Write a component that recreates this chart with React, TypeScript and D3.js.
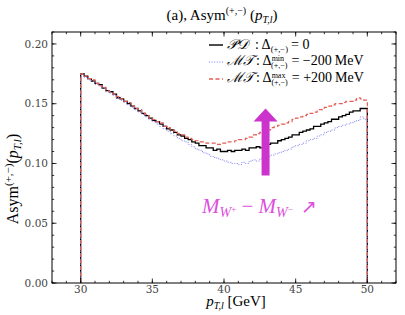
import React from 'react';
import * as d3 from 'd3';

// histogram: 80 bins of 0.25 GeV from 30 to 50 GeV
const binStart = 30;
const binWidth = 0.25;

const pd = [
  0.175, 0.173, 0.171, 0.169, 0.167, 0.166, 0.163, 0.161,
  0.160, 0.158, 0.155, 0.154, 0.152, 0.150, 0.148, 0.146,
  0.144, 0.142, 0.140, 0.138, 0.136, 0.135, 0.133, 0.131,
  0.129, 0.128, 0.126, 0.124, 0.123, 0.121, 0.120, 0.118,
  0.117, 0.115, 0.115, 0.113, 0.113, 0.111, 0.112, 0.110,
  0.110, 0.111, 0.110, 0.111, 0.111, 0.112, 0.111, 0.113,
  0.113, 0.114, 0.113, 0.115, 0.116, 0.117, 0.117, 0.119,
  0.120, 0.121, 0.122, 0.124, 0.124, 0.126, 0.127, 0.128,
  0.129, 0.131, 0.131, 0.133, 0.134, 0.135, 0.137, 0.137,
  0.139, 0.140, 0.141, 0.143, 0.144, 0.144, 0.146, 0.146,
];

const mtMin = [
  0.175, 0.172, 0.170, 0.169, 0.166, 0.165, 0.163, 0.160,
  0.159, 0.157, 0.155, 0.153, 0.151, 0.149, 0.147, 0.145,
  0.143, 0.141, 0.139, 0.137, 0.135, 0.133, 0.131, 0.129,
  0.127, 0.125, 0.123, 0.121, 0.119, 0.118, 0.116, 0.114,
  0.112, 0.111, 0.109, 0.108, 0.106, 0.105, 0.104, 0.103,
  0.102, 0.101, 0.100, 0.100, 0.099, 0.101, 0.100, 0.102,
  0.103, 0.102, 0.104, 0.105, 0.106, 0.107, 0.108, 0.109,
  0.110, 0.111, 0.112, 0.114, 0.115, 0.116, 0.117, 0.119,
  0.120, 0.121, 0.123, 0.124, 0.126, 0.127, 0.128, 0.130,
  0.131, 0.132, 0.133, 0.134, 0.135, 0.136, 0.139, 0.137,
];

const mtMax = [
  0.175, 0.173, 0.171, 0.170, 0.167, 0.165, 0.164, 0.161,
  0.160, 0.158, 0.156, 0.154, 0.152, 0.151, 0.148, 0.146,
  0.145, 0.142, 0.141, 0.138, 0.137, 0.135, 0.134, 0.131,
  0.130, 0.128, 0.127, 0.125, 0.124, 0.122, 0.121, 0.120,
  0.119, 0.118, 0.118, 0.117, 0.117, 0.117, 0.116, 0.117,
  0.117, 0.118, 0.118, 0.119, 0.120, 0.120, 0.121, 0.122,
  0.124, 0.125, 0.126, 0.127, 0.128, 0.130, 0.131, 0.132,
  0.133, 0.134, 0.135, 0.137, 0.138, 0.139, 0.140, 0.141,
  0.142, 0.143, 0.145, 0.145, 0.147, 0.148, 0.149, 0.150,
  0.150, 0.151, 0.152, 0.152, 0.153, 0.155, 0.154, 0.153,
];

const xTicks = [30, 35, 40, 45, 50];
const yTicks = [0, 0.05, 0.1, 0.15, 0.2];

// annotation arrow (data units)
const arrowX = 42.9;
const arrowTail = 0.09;
const arrowTip = 0.146;

const W = 405, H = 315;
const margin = { left: 52, right: 9, top: 32, bottom: 32 };
const serif = '"DejaVu Serif", serif';
const mathSerif = '"Liberation Serif", serif';

export default function App() {
  const x = d3.scaleLinear().domain([28, 52]).range([margin.left, W - margin.right]);
  const y = d3.scaleLinear().domain([0, 0.21]).range([H - margin.bottom, margin.top]);
  const [x0, x1] = x.range();
  const [y0, y1] = y.range();

  const stepPath = (vals: number[]) => {
    const pts: [number, number][] = [[binStart, 0]];
    vals.forEach((v, i) => {
      pts.push([binStart + i * binWidth, v]);
      pts.push([binStart + (i + 1) * binWidth, v]);
    });
    pts.push([binStart + vals.length * binWidth, 0]);
    return d3.line<[number, number]>().x(d => x(d[0])).y(d => y(d[1]))(pts) || '';
  };

  const xMinor = d3.range(28, 52.001, 1);
  const yMinor = d3.range(0, 0.2101, 0.01);

  const ax = x(arrowX);
  const tipY = y(arrowTip);
  const tailY = y(arrowTail);
  const headLen = 13;
  const arrowPts = [
    [ax - 4, tailY], [ax - 4, tipY + headLen], [ax - 12, tipY + headLen], [ax, tipY],
    [ax + 12, tipY + headLen], [ax + 4, tipY + headLen], [ax + 4, tailY],
  ].map(p => p.join(',')).join(' ');

  const legendX = 209;
  const legendRows = [
    { y: 45, color: '#000', dash: 'none', width: 1.4 },
    { y: 62, color: '#7b7bf0', dash: '1 1.6', width: 1 },
    { y: 79, color: '#e45c55', dash: '4 2.5', width: 1.3 },
  ];

  return (
    <svg width={W} height={H} style={{ position: 'absolute', left: 0, top: 0, background: '#fff' }}
      fontFamily={mathSerif}>
      {/* title */}
      <text x={222} y={20} textAnchor="middle" fontSize={15}>
        (a), Asym<tspan fontSize={10} dy={-6}>(+,−)</tspan>
        <tspan dy={6}> (</tspan><tspan fontStyle="italic">p</tspan>
        <tspan fontSize={10} fontStyle="italic" dy={3}>T,l</tspan><tspan dy={-3}>)</tspan>
      </text>

      {/* histograms */}
      <g fill="none">
        <path d={stepPath(pd)} stroke="#000" strokeWidth={1.3} />
        <path d={stepPath(mtMin)} stroke="#7b7bf0" strokeWidth={1} strokeDasharray="1 1.6" />
        <path d={stepPath(mtMax)} stroke="#e45c55" strokeWidth={1.2} strokeDasharray="4 2.5" />
      </g>

      {/* arrow */}
      <polygon points={arrowPts} fill="#cc33cc" />
      <text x={202} y={213} fill="#dd4fdd" fontSize={21}>
        <tspan fontStyle="italic">M</tspan>
        <tspan fontSize={14} fontStyle="italic" dy={4}>W</tspan>
        <tspan fontSize={9} dy={-5}>+</tspan>
        <tspan dy={1}> − </tspan>
        <tspan fontStyle="italic">M</tspan>
        <tspan fontSize={14} fontStyle="italic" dy={4}>W</tspan>
        <tspan fontSize={9} dy={-5}>−</tspan>
        <tspan dy={1} dx={8} fontFamily="DejaVu Sans" fontSize={19}>↗</tspan>
      </text>

      {/* frame */}
      <rect x={x0} y={y1} width={x1 - x0} height={y0 - y1} fill="none" stroke="#000" strokeWidth={1} />

      {/* ticks */}
      <g stroke="#000" strokeWidth={0.8}>
        {xMinor.map(t => (
          <g key={'xm' + t}>
            <line x1={x(t)} x2={x(t)} y1={y0} y2={y0 - 2.2} />
            <line x1={x(t)} x2={x(t)} y1={y1} y2={y1 + 2.2} />
          </g>
        ))}
        {xTicks.map(t => (
          <g key={'xt' + t}>
            <line x1={x(t)} x2={x(t)} y1={y0} y2={y0 - 4.5} />
            <line x1={x(t)} x2={x(t)} y1={y1} y2={y1 + 4.5} />
          </g>
        ))}
        {yMinor.map(t => (
          <g key={'ym' + t}>
            <line x1={x0} x2={x0 + 2.2} y1={y(t)} y2={y(t)} />
            <line x1={x1} x2={x1 - 2.2} y1={y(t)} y2={y(t)} />
          </g>
        ))}
        {yTicks.map(t => (
          <g key={'yt' + t}>
            <line x1={x0} x2={x0 + 4.5} y1={y(t)} y2={y(t)} />
            <line x1={x1} x2={x1 - 4.5} y1={y(t)} y2={y(t)} />
          </g>
        ))}
      </g>

      {/* tick labels */}
      <g fontSize={10.5} fill="#444" fontFamily={serif}>
        {xTicks.map(t => (
          <text key={'xl' + t} x={x(t)} y={y0 + 10} textAnchor="middle">{t}</text>
        ))}
        {yTicks.map(t => (
          <text key={'yl' + t} x={x0 - 4} y={y(t)} dy="0.35em" textAnchor="end">{d3.format('.2f')(t)}</text>
        ))}
      </g>

      {/* axis labels */}
      <text x={236} y={306} textAnchor="middle" fontSize={15}>
        <tspan fontStyle="italic">p</tspan>
        <tspan fontSize={10} fontStyle="italic" dy={3}>T,l</tspan>
        <tspan dy={-3}> [GeV]</tspan>
      </text>
      <text transform={`translate(18,179) rotate(-90)`} textAnchor="middle" fontSize={16}>
        Asym<tspan fontSize={11} dy={-6}>(+,−)</tspan>
        <tspan dy={6}>(</tspan><tspan fontStyle="italic">p</tspan>
        <tspan fontSize={11} fontStyle="italic" dy={3}>T,l</tspan><tspan dy={-3}>)</tspan>
      </text>

      {/* legend */}
      {legendRows.map((r, i) => (
        <line key={'lg' + i} x1={legendX} x2={legendX + 14} y1={r.y} y2={r.y}
          stroke={r.color} strokeWidth={r.width} strokeDasharray={r.dash} />
      ))}
      <g fontSize={14}>
        <text x={227} y={49}>
          <tspan fontStyle="italic">𝒫𝒟</tspan>
          <tspan dx={7}>: Δ</tspan>
          <tspan fontSize={8.5} dy={3}>(+,−)</tspan>
          <tspan dy={-3} dx={3}>= 0</tspan>
        </text>
        <text x={227} y={65}>
          <tspan fontStyle="italic">ℳ𝒯</tspan>
          <tspan dx={2}>: Δ</tspan>
          <tspan fontSize={8} dy={-4.5}>min</tspan>
          <tspan fontSize={8} dx={-13} dy={7.5}>(+,−)</tspan>
          <tspan dy={-3} dx={4}>= −200</tspan>
          <tspan dx={3}>MeV</tspan>
        </text>
        <text x={227} y={82}>
          <tspan fontStyle="italic">ℳ𝒯</tspan>
          <tspan dx={2}>: Δ</tspan>
          <tspan fontSize={8} dy={-4.5}>max</tspan>
          <tspan fontSize={8} dx={-14} dy={7.5}>(+,−)</tspan>
          <tspan dy={-3} dx={4}>= +200</tspan>
          <tspan dx={3}>MeV</tspan>
        </text>
      </g>
    </svg>
  );
}
